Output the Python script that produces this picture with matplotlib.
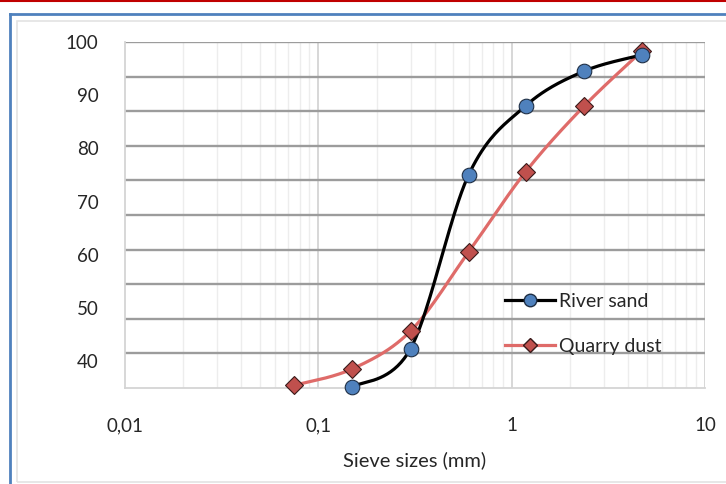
import numpy as np
import matplotlib
matplotlib.use('Agg')
import matplotlib.pyplot as plt
from matplotlib.lines import Line2D
from matplotlib.patches import Rectangle

plt.rcParams['font.family'] = ['Lato', 'DejaVu Sans']

# sieve sizes (mm) and percent passing
river_size = [0.15, 0.3, 0.6, 1.18, 2.36, 4.75]
river_pass = [35.2, 42.4, 75.1, 88.0, 94.5, 97.6]
dust_size = [0.075, 0.15, 0.3, 0.6, 1.18, 2.36, 4.75]
dust_pass = [35.5, 38.6, 45.7, 60.6, 75.6, 87.9, 98.4]

x_ticks = [0.01, 0.1, 1, 10]
x_labels = ['0,01', '0,1', '1', '10']
y_ticks = [40, 50, 60, 70, 80, 90, 100]


def smooth(xs, ys, n=40):
    # excel style smoothed line (catmull-rom) in screen-like space
    px = np.log10(xs) * 193.5
    py = np.asarray(ys) * 5.32
    pts = np.column_stack([px, py])
    pts = np.vstack([pts[0], pts, pts[-1]])
    out = []
    for i in range(1, len(pts) - 2):
        p0, p1, p2, p3 = pts[i - 1], pts[i], pts[i + 1], pts[i + 2]
        t = np.linspace(0, 1, n)[:, None]
        c = 0.5 * ((2 * p1) + (-p0 + p2) * t + (2 * p0 - 5 * p1 + 4 * p2 - p3) * t ** 2
                   + (-p0 + 3 * p1 - 3 * p2 + p3) * t ** 3)
        out.append(c)
    out = np.vstack(out)
    return 10 ** (out[:, 0] / 193.5), out[:, 1] / 5.32


fig = plt.figure(figsize=(7.26, 4.84), dpi=100)
ax = fig.add_axes([125 / 726, 1 - 388 / 484, 580 / 726, 346 / 484])

# frame decorations
fig.add_artist(Line2D([0, 1], [0.998, 0.998], color='#c00000', lw=1.5))
fig.add_artist(Line2D([9.5 / 726, 1], [1 - 14 / 484, 1 - 14 / 484], color='#4f81bd', lw=2))
fig.add_artist(Line2D([9.5 / 726, 9.5 / 726], [0, 1 - 14 / 484], color='#4f81bd', lw=2))
fig.add_artist(Rectangle((17 / 726, 2 / 484), 1, 1 - 23 / 484, fill=False,
                         edgecolor='#e3e3e3', lw=1.2, transform=fig.transFigure))

ax.set_xscale('log')
ax.set_xlim(0.01, 10)
ax.set_ylim(35, 100)

# grid
for d in [0.01, 0.1, 1]:
    for m in range(2, 10):
        ax.axvline(d * m, color='#ededed', lw=1, zorder=0)
for d in [0.1, 1, 10]:
    ax.axvline(d, color='#d4d4d4', lw=1.3, zorder=0)
for g in np.arange(35 + 6.5, 100.1, 6.5):
    ax.axhline(g, color='#9c9c9c', lw=1.7, zorder=1)

for s in ['top', 'right']:
    ax.spines[s].set_visible(False)
for s in ['left', 'bottom']:
    ax.spines[s].set_color('#d4d4d4')
    ax.spines[s].set_linewidth(1.3)

ax.set_xticks(x_ticks)
ax.set_xticklabels(x_labels)
ax.xaxis.set_minor_locator(matplotlib.ticker.NullLocator())
ax.set_yticks(y_ticks)
ax.set_yticklabels([str(v) for v in y_ticks])
ax.tick_params(axis='both', length=0, labelsize=13.5, colors='#262626')
ax.tick_params(axis='y', pad=19)
ax.tick_params(axis='x', pad=21)
ax.set_xlabel('Sieve sizes (mm)', fontsize=14.5, color='#262626', labelpad=12)

sx, sy = smooth(river_size, river_pass)
ax.plot(sx, sy, color='black', lw=2.3, zorder=3)
dx, dy = smooth(dust_size, dust_pass)
ax.plot(dx, dy, color='#df6b69', lw=2.3, zorder=2)
ax.plot(dust_size, dust_pass, 'D', color='#c0504d', mec='#3a1a1a', mew=0.8, ms=9,
        zorder=4, clip_on=False)
ax.plot(river_size, river_pass, 'o', color='#4f81bd', mec='#1f2f45', mew=0.8, ms=10.5,
        zorder=5, clip_on=False)

h1 = Line2D([], [], color='black', lw=2.3, marker='o', mfc='#4f81bd', mec='#1f2f45', ms=9)
h2 = Line2D([], [], color='#df6b69', lw=2.3, marker='D', mfc='#c0504d', mec='#3a1a1a', ms=7.5)
leg = ax.legend([h1, h2], ['River sand', 'Quarry dust'], loc='center left',
                bbox_to_anchor=(0.655, 0.185), frameon=False, fontsize=14,
                handlelength=2.6, handletextpad=0.2, labelspacing=1.45, borderpad=0,
                borderaxespad=0)
for t in leg.get_texts():
    t.set_color('#262626')

fig.savefig('out.png', dpi=100)
